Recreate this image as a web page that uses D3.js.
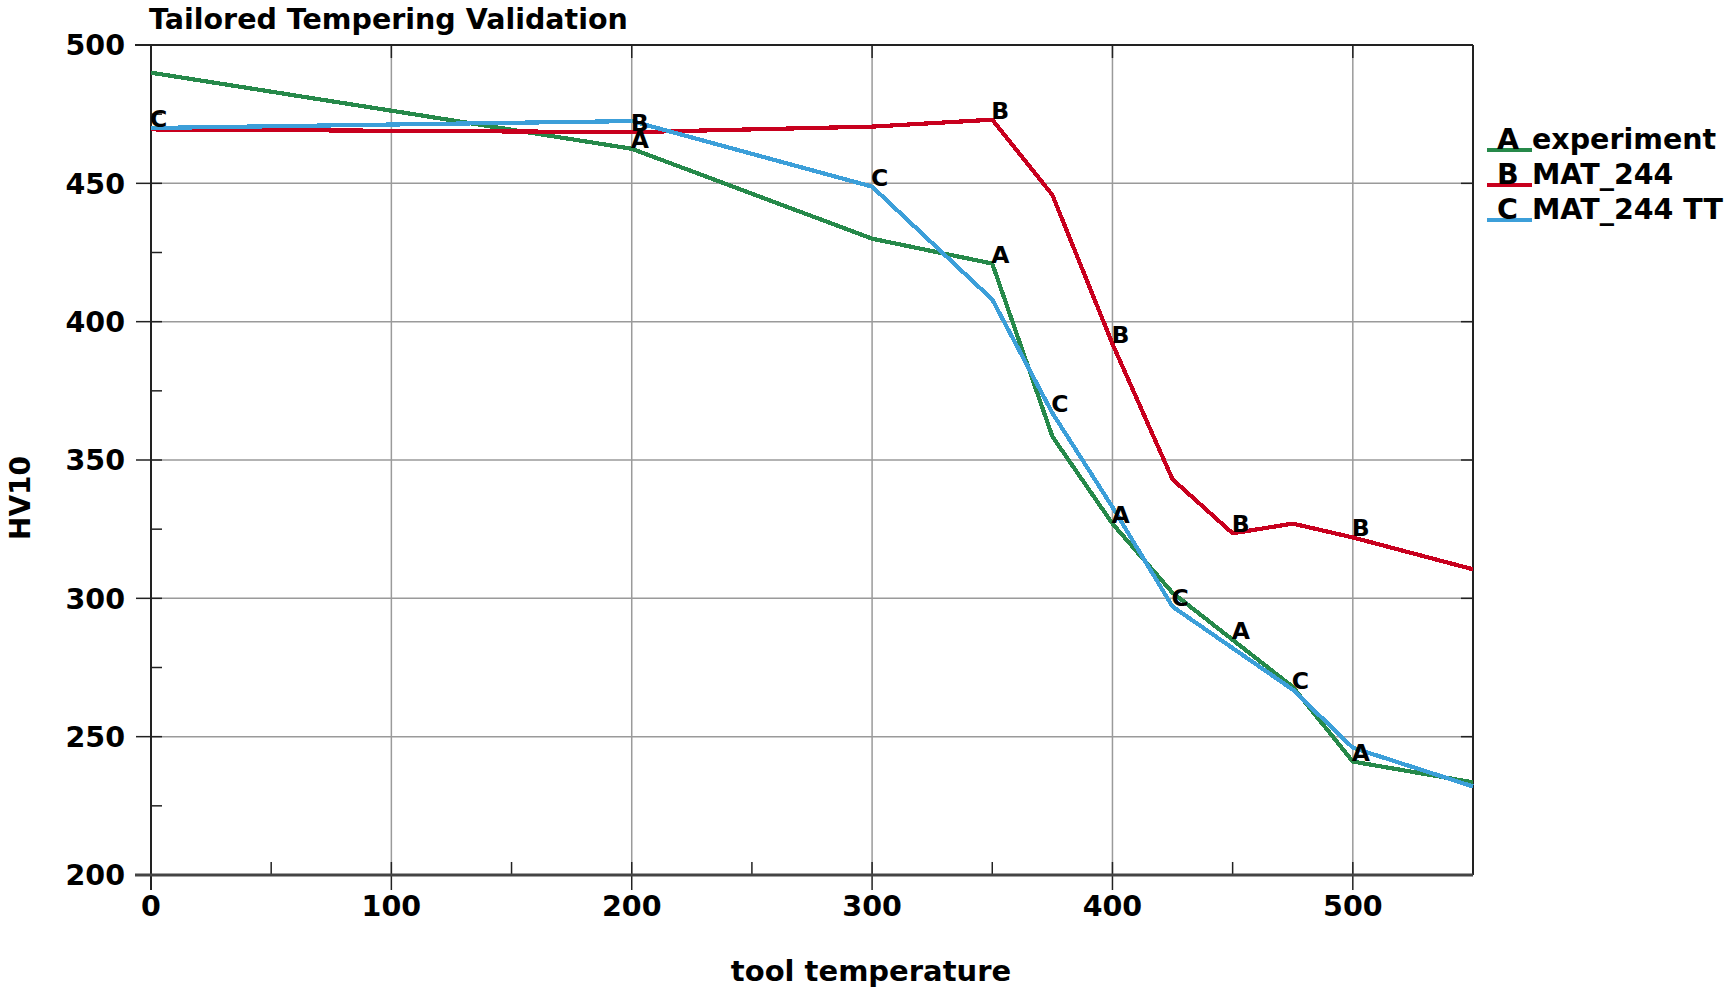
<!DOCTYPE html>
<html>
<head>
<meta charset="utf-8">
<script src="https://cdn.jsdelivr.net/npm/d3@7"></script>
<style>
  html, body { margin: 0; padding: 0; background: #fff; }
  svg { display: block; }
  text { font-family: "DejaVu Sans", sans-serif; font-weight: bold; fill: #000; }
</style>
</head>
<body>
<svg id="chart" width="1728" height="990"></svg>
<script>
// Hardness (HV10) against tool temperature
const temperatures = [0, 200, 300, 350, 375, 400, 425, 450, 475, 500, 550];
const experiment   = [490, 462.5, 430, 421, 358.5, 327, 302, 285, 268, 241, 233.5];
const mat244       = [469.5, 468.5, 470.5, 473, 445.8, 392, 343, 323.5, 327, 322, 310.5];
const mat244TT     = [470, 472.5, 448.8, 408, 367, 333, 297, 282, 267, 246, 232];

const seriesNames  = ["experiment", "MAT_244", "MAT_244 TT"];
const seriesTags   = ["A", "B", "C"];
const seriesColors = ["#26894a", "#c8001e", "#3c9fd9"];
// every second point carries the curve letter; A and B start at index 1, C at 0
const tagOffsets   = [1, 1, 0];

const xTicks = [0, 100, 200, 300, 400, 500];
const yTicks = [200, 250, 300, 350, 400, 450, 500];
const xMinorTicks = [50, 150, 250, 350, 450];
const yMinorTicks = [225, 275, 325, 375, 425, 475];

const titleText = "Tailored Tempering Validation";
const xTitle = "tool temperature";
const yTitle = "HV10";

const svg = d3.select("#chart");
const pLeft = 151, pRight = 1473, pTop = 45, pBottom = 875;

const x = d3.scaleLinear().domain([0, 550]).range([pLeft, pRight]);
const y = d3.scaleLinear().domain([200, 500]).range([pBottom, pTop]);

// grid
const grid = svg.append("g").attr("stroke", "#9a9a9a").attr("stroke-width", 1.5);
grid.selectAll("line.gx").data(xTicks.filter(d => d > 0)).join("line")
  .attr("class", "gx")
  .attr("x1", d => x(d)).attr("x2", d => x(d)).attr("y1", pTop).attr("y2", pBottom);
grid.selectAll("line.gy").data(yTicks.filter(d => d > 200 && d < 500)).join("line")
  .attr("class", "gy")
  .attr("x1", pLeft).attr("x2", pRight).attr("y1", d => y(d)).attr("y2", d => y(d));

// ticks
const ticks = svg.append("g").attr("stroke", "#222").attr("stroke-width", 1.5);
ticks.selectAll("line.yl").data(yTicks).join("line").attr("class", "yl")
  .attr("x1", pLeft - 15).attr("x2", pLeft + 11).attr("y1", d => y(d)).attr("y2", d => y(d));
ticks.selectAll("line.ym").data(yMinorTicks).join("line").attr("class", "ym")
  .attr("x1", pLeft).attr("x2", pLeft + 11).attr("y1", d => y(d)).attr("y2", d => y(d));
ticks.selectAll("line.yr").data(yTicks).join("line").attr("class", "yr")
  .attr("x1", pRight - 12).attr("x2", pRight).attr("y1", d => y(d)).attr("y2", d => y(d));
ticks.selectAll("line.xb").data(xTicks).join("line").attr("class", "xb")
  .attr("x1", d => x(d)).attr("x2", d => x(d)).attr("y1", pBottom - 13).attr("y2", pBottom + 15);
ticks.selectAll("line.xm").data(xMinorTicks).join("line").attr("class", "xm")
  .attr("x1", d => x(d)).attr("x2", d => x(d)).attr("y1", pBottom - 13).attr("y2", pBottom);
ticks.selectAll("line.xt").data(xTicks).join("line").attr("class", "xt")
  .attr("x1", d => x(d)).attr("x2", d => x(d)).attr("y1", pTop).attr("y2", pTop + 13);

// frame
svg.append("line").attr("x1", pLeft - 16).attr("x2", pRight).attr("y1", pTop).attr("y2", pTop)
  .attr("stroke", "#222").attr("stroke-width", 2);
svg.append("line").attr("x1", pLeft).attr("x2", pLeft).attr("y1", pTop).attr("y2", pBottom + 15)
  .attr("stroke", "#222").attr("stroke-width", 2);
svg.append("line").attr("x1", pRight).attr("x2", pRight).attr("y1", pTop).attr("y2", pBottom)
  .attr("stroke", "#222").attr("stroke-width", 2);
svg.append("line").attr("x1", pLeft - 16).attr("x2", pRight).attr("y1", pBottom).attr("y2", pBottom)
  .attr("stroke", "#444").attr("stroke-width", 3);

// tick labels
svg.append("g").selectAll("text").data(yTicks).join("text")
  .attr("x", pLeft - 26).attr("y", d => y(d)).attr("dy", "0.36em")
  .attr("text-anchor", "end").attr("font-size", 28.5).text(d => d);
svg.append("g").selectAll("text").data(xTicks).join("text")
  .attr("x", d => x(d)).attr("y", 916)
  .attr("text-anchor", "middle").attr("font-size", 28.5).text(d => d);

// titles
svg.append("text").attr("x", 149).attr("y", 29).attr("font-size", 28.5).text(titleText);
svg.append("text").attr("x", 871).attr("y", 981).attr("text-anchor", "middle")
  .attr("font-size", 29).text(xTitle);
svg.append("text").attr("transform", "translate(30,498) rotate(-90)")
  .attr("text-anchor", "middle").attr("font-size", 28).text(yTitle);

// curves
const allSeries = [experiment, mat244, mat244TT];
const line = d3.line().x(d => x(d[0])).y(d => y(d[1]));
const plot = svg.append("g");
allSeries.forEach((vals, i) => {
  const pts = temperatures.map((t, k) => [t, vals[k]]);
  plot.append("path").datum(pts)
    .attr("d", line).attr("fill", "none")
    .attr("stroke", seriesColors[i]).attr("stroke-width", 4.2)
    .attr("stroke-linejoin", "round")
    .attr("shape-rendering", "crispEdges");
});
allSeries.forEach((vals, i) => {
  const pts = temperatures.map((t, k) => [t, vals[k], k])
    .filter(p => p[2] % 2 === tagOffsets[i] % 2 && p[2] >= tagOffsets[i] && p[2] < temperatures.length - 1);
  plot.append("g").selectAll("text").data(pts).join("text")
    .attr("x", d => x(d[0]) - 1).attr("y", d => y(d[1]) - 1)
    .attr("font-size", 23.5).text(seriesTags[i]);
});

// legend
const legend = svg.append("g");
seriesNames.forEach((name, i) => {
  const ly = 150 + i * 35;
  legend.append("line").attr("x1", 1487).attr("x2", 1532).attr("y1", ly).attr("y2", ly)
    .attr("stroke", seriesColors[i]).attr("stroke-width", 4);
  legend.append("text").attr("x", 1497).attr("y", ly - 1).attr("font-size", 28.5).text(seriesTags[i]);
  legend.append("text").attr("x", 1532).attr("y", ly - 1).attr("font-size", 28.5).text(name);
});
</script>
</body>
</html>
